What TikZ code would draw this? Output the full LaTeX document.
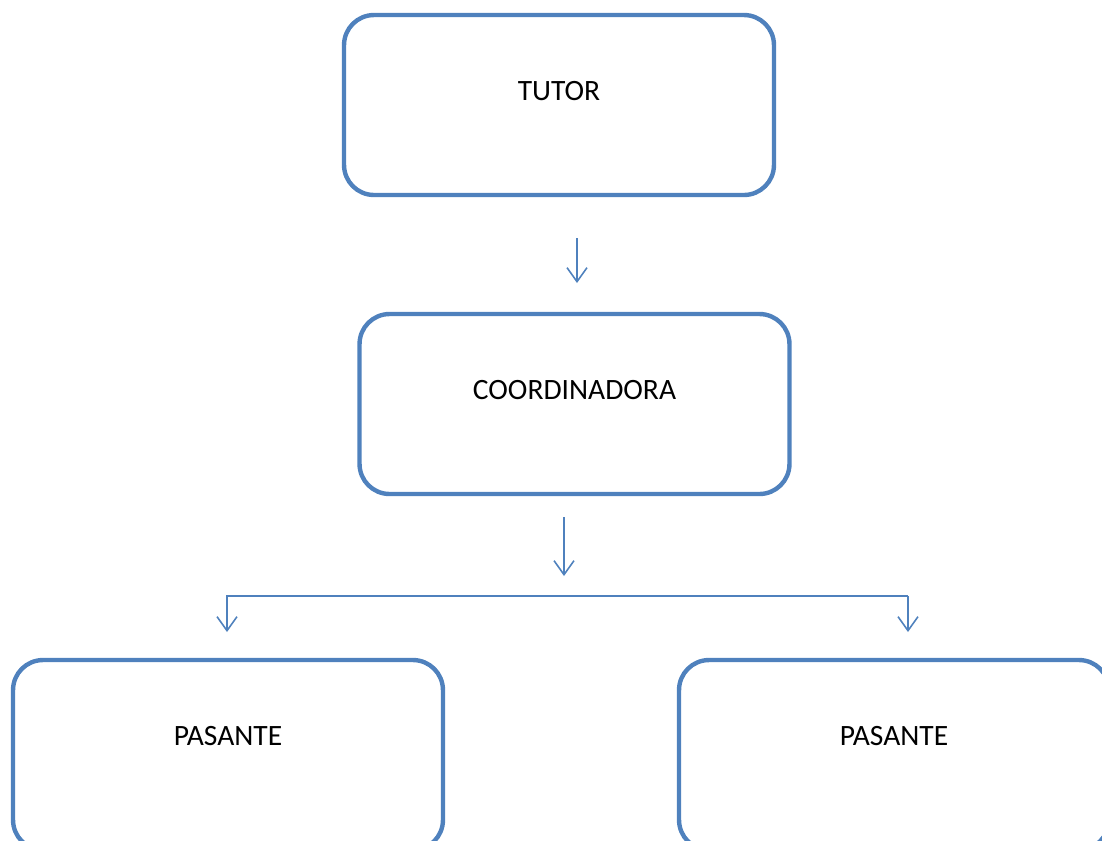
\documentclass[tikz,border=0pt]{standalone}
\usepackage{fontspec}
\setmainfont{Carlito}
\usetikzlibrary{arrows.meta}
\definecolor{boxblue}{HTML}{4F81BD}
\begin{document}
\begin{tikzpicture}[x=0.02cm, y=-0.02cm,
    caja/.style={draw=boxblue, line width=2.5pt, rounded corners=0.6cm,
        minimum width=8.6cm, minimum height=3.6cm, text depth=0.56cm,
        inner sep=0pt, font=\fontsize{16.8}{20}\selectfont},
    flecha/.style={draw=boxblue, line width=0.9pt,
        -{Straight Barb[length=0.28cm, width=0.4cm]}}]
    \useasboundingbox (0,0) rectangle (1102,840);
    \clip (0,0) rectangle (1102,840);
    \node[caja] (tutor) at (559,105) {TUTOR};
    \node[caja] (coord) at (574.5,404) {COORDINADORA};
    \node[caja, minimum height=3.8cm, text depth=0.76cm] (pasanteI) at (228,755) {PASANTE};
    \node[caja, minimum height=3.8cm, text depth=0.76cm] (pasanteD) at (894,755) {PASANTE};
    \coordinate (a1) at (577,238);
    \coordinate (a2) at (577,283);
    \coordinate (b1) at (564,517);
    \coordinate (b2) at (564,576);
    \coordinate (ramaI) at (227,596);
    \coordinate (ramaD) at (908,596);
    \coordinate (puntaI) at (227,632);
    \coordinate (puntaD) at (908,632);
    \draw[flecha] (a1) -- (a2);
    \draw[flecha] (b1) -- (b2);
    \draw[flecha] (ramaD) -- (ramaI) -- (puntaI);
    \draw[flecha] (ramaD) -- (puntaD);
\end{tikzpicture}
\end{document}
